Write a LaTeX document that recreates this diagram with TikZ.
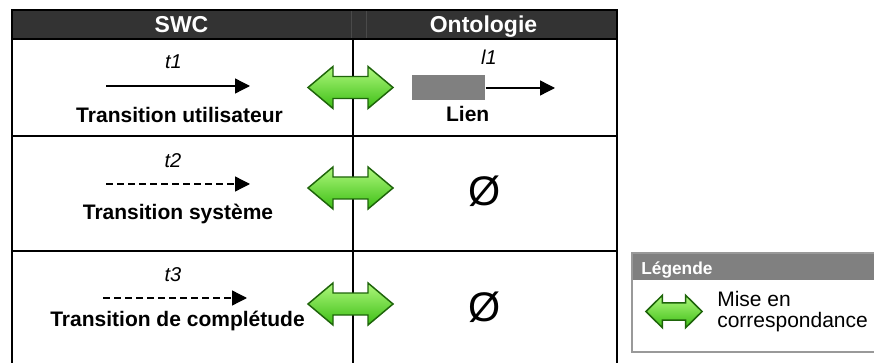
\documentclass[tikz,border=0pt]{standalone}
\usepackage{fontspec}
\setmainfont{Liberation Sans}
\usetikzlibrary{arrows.meta}
\definecolor{hdr}{HTML}{333333}
\definecolor{hdrline}{HTML}{4A4A4A}
\definecolor{lghdr}{HTML}{808080}
\definecolor{lgborder}{HTML}{999999}
\definecolor{linkgray}{HTML}{808080}
\definecolor{grtop}{RGB}{175,248,125}
\definecolor{grbot}{RGB}{60,190,20}
\definecolor{grline}{RGB}{30,100,10}
\tikzset{
  tbl/.style={line width=1.5pt, draw=black},
  corrstyle/.style={draw=grline, line width=1.1pt, line join=miter, top color=grtop, bottom color=grbot},
  corrarrow/.pic={\path[corrstyle] (-42.5,0) -- (-17.5,-21) -- (-17.5,-11) -- (17.5,-11) -- (17.5,-21) -- (42.5,0) -- (17.5,21) -- (17.5,11) -- (-17.5,11) -- (-17.5,21) -- cycle;},
  hdrtext/.style={inner sep=0pt, anchor=base, text=white, font=\fontsize{17.25}{20}\selectfont\bfseries},
  lbl/.style={inner sep=0pt, anchor=base, font=\fontsize{15.75}{18}\selectfont\bfseries},
  ital/.style={inner sep=0pt, anchor=base, font=\fontsize{15}{18}\selectfont\itshape},
  empty/.style={inner sep=0pt, anchor=center, font=\fontsize{31}{34}\selectfont},
  trans/.style={line width=1pt, -{Triangle[length=11.25pt,width=11.25pt]}},
  transdash/.style={trans, dash pattern=on 5.25pt off 3pt},
  legtext/.style={inner sep=0pt, anchor=base west, font=\fontsize{15.75}{18}\selectfont},
}
\begin{document}
\begin{tikzpicture}[x=0.75pt, y=-0.75pt]
\useasboundingbox (0,0) rectangle (874,363);
\clip (0,0) rectangle (874,363);
\fill[white] (0,0) rectangle (874,363);
% header
\fill[hdr] (12,10) rectangle (617,39);
\draw[tbl] (12,370) -- (12,10) -- (617,10) -- (617,370);
\draw[tbl] (12,39) -- (617,39);
\draw[tbl] (12,136) -- (617,136);
\draw[tbl] (12,251) -- (617,251);
\draw[tbl] (353,39) -- (353,370);
\draw[line width=0.5pt, draw=hdrline] (351,11) -- (351,38);
\draw[line width=0.5pt, draw=hdrline] (366,11) -- (366,38);
\node[hdrtext] (swc) at (181.5,32.3) {SWC};
\node[hdrtext] (onto) at (483.5,32.3) {Ontologie};
% row 1
\node[ital] (t1) at (173.5,69) {t1};
\coordinate (a1s) at (106,86);
\coordinate (a1e) at (250,86);
\draw[trans] (a1s) -- (a1e);
\node[lbl] (tu) at (179.5,122.7) {Transition utilisateur};
\pic at (350.5,87.5) {corrarrow};
\node[ital] (l1) at (489,65) {l1};
\node[fill=linkgray, minimum width=54.75pt, minimum height=18.75pt, inner sep=0pt, anchor=north west] (rect) at (412,75) {};
\coordinate (l1e) at (555,88);
\draw[trans] (rect.east |- l1e) -- (l1e);
\node[lbl] (lien) at (467.7,121.7) {Lien};
% row 2
\node[ital] (t2) at (173,167.3) {t2};
\coordinate (a2s) at (106,184);
\coordinate (a2e) at (250,184);
\draw[transdash] (a2s) -- (a2e);
\node[lbl] (ts) at (178,219.3) {Transition système};
\pic at (350.5,188) {corrarrow};
\node[empty] (e2) at (485,191) {Ø};
% row 3
\node[ital] (t3) at (173,281.7) {t3};
\coordinate (a3s) at (103,298);
\coordinate (a3e) at (247,298);
\draw[transdash] (a3s) -- (a3e);
\node[lbl] (tc) at (177.5,326.7) {Transition de complétude};
\pic at (350.5,304) {corrarrow};
\node[empty] (e3) at (485,307) {Ø};
% legend
\fill[lghdr] (632,253) rectangle (880,280);
\draw[line width=1.5pt, draw=lgborder] (880,253) -- (632,253) -- (632,352) -- (880,352);
\node[inner sep=0pt, anchor=base west, text=white, font=\fontsize{13}{15}\selectfont\bfseries] (leg) at (641,275) {Légende};
\pic[xscale=0.66, yscale=0.78] at (674,311.5) {corrarrow};
\node[legtext] (m1) at (717,306.7) {Mise en};
\node[legtext] (m2) at (717,327.3) {correspondance};
\end{tikzpicture}
\end{document}
